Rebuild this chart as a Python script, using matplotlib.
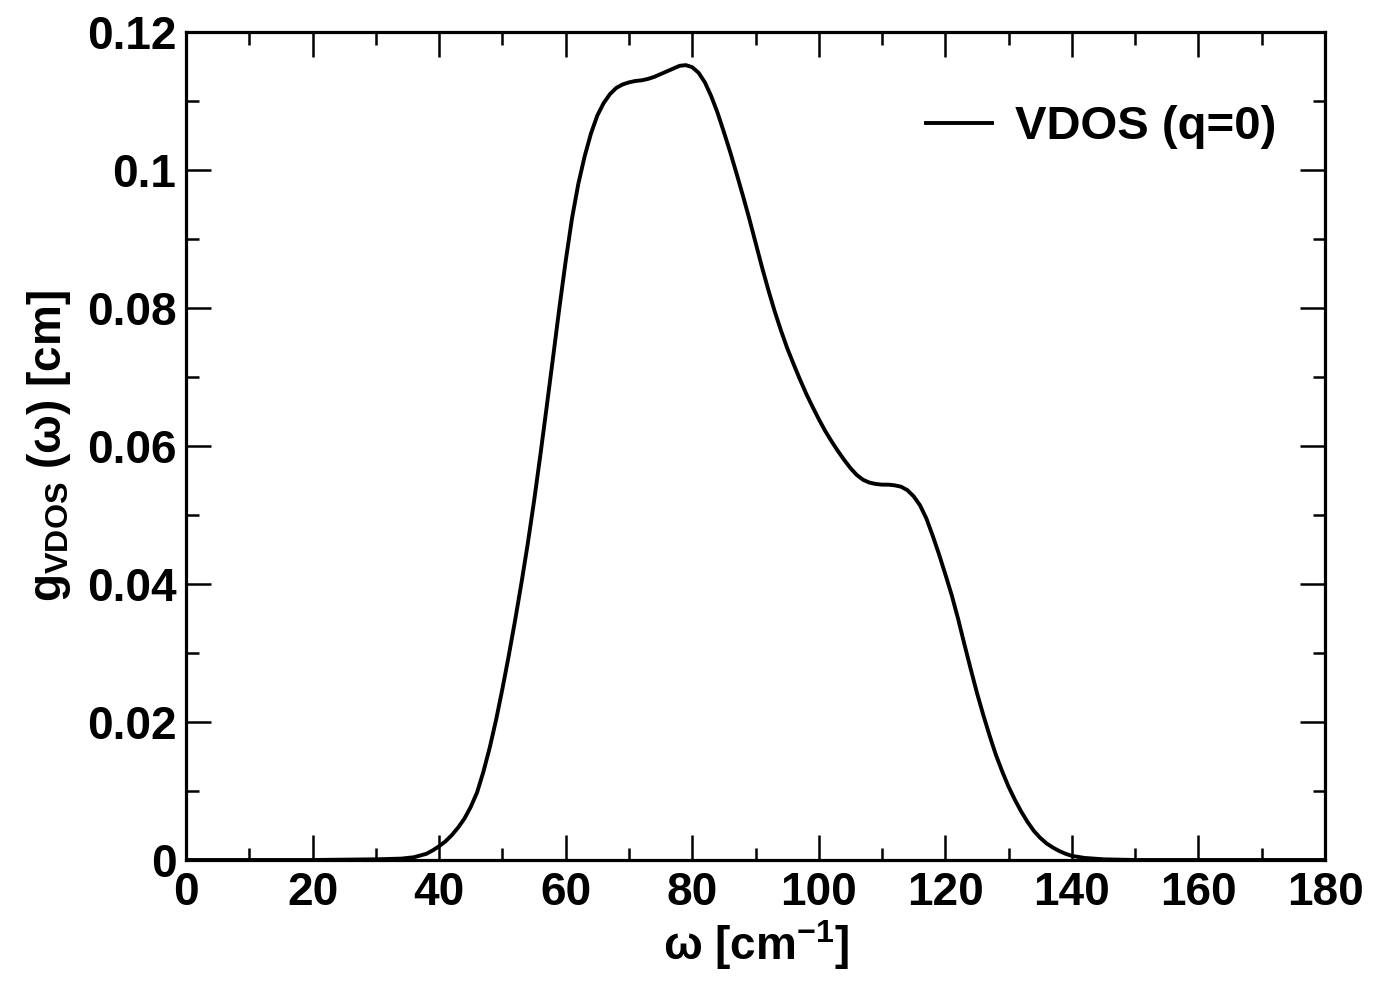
import matplotlib
matplotlib.use("Agg")
import matplotlib.pyplot as plt
from matplotlib.ticker import MultipleLocator

plt.rcParams['font.family'] = ['Liberation Sans', 'DejaVu Sans']
plt.rcParams['font.weight'] = 'bold'
plt.rcParams['mathtext.fontset'] = 'custom'
plt.rcParams['mathtext.rm'] = 'Liberation Sans'
plt.rcParams['mathtext.bf'] = 'Liberation Sans:bold'

# Data
omega = [0, 10, 20, 30, 34, 36, 38, 39, 40, 41, 42, 43, 44, 45, 46, 47, 48,
         49, 50, 51, 52, 53, 54, 55, 56, 57, 58, 59, 60, 61, 62, 63, 64, 65,
         66, 67, 68, 69, 70, 71, 72, 73, 74, 75, 76, 77, 78, 79, 80, 81, 82,
         83, 84, 85, 86, 87, 88, 89, 90, 91, 92, 93, 94, 95, 96, 97, 98, 99,
         100, 101, 102, 103, 104, 105, 106, 107, 108, 109, 110, 111, 112,
         113, 114, 115, 116, 117, 118, 119, 120, 121, 122, 123, 124, 125,
         126, 127, 128, 129, 130, 131, 132, 133, 134, 135, 136, 137, 138,
         139, 140, 142, 145, 150, 160, 170, 180]
g_vdos = [0.0, 0.0, 0.0, 0.0001, 0.0002, 0.0004, 0.0009, 0.0014, 0.0020,
          0.0027, 0.0036, 0.0047, 0.0060, 0.0077, 0.0098, 0.0128, 0.0163,
          0.0203, 0.0248, 0.0296, 0.0347, 0.0401, 0.0458, 0.0520, 0.0587,
          0.0657, 0.0728, 0.0800, 0.0868, 0.0930, 0.0980, 0.1020, 0.1053,
          0.1079, 0.1097, 0.1110, 0.1119, 0.1124, 0.1127, 0.1129, 0.1130,
          0.1132, 0.1135, 0.1139, 0.1143, 0.1147, 0.1151, 0.1152, 0.1149,
          0.1141, 0.1127, 0.1107, 0.1083, 0.1055, 0.1026, 0.0995, 0.0963,
          0.0930, 0.0895, 0.0860, 0.0827, 0.0796, 0.0768, 0.0742, 0.0719,
          0.0697, 0.0676, 0.0657, 0.0639, 0.0622, 0.0607, 0.0593, 0.0580,
          0.0568, 0.0558, 0.0551, 0.0547, 0.0545, 0.0544, 0.0544, 0.0543,
          0.0541, 0.0536, 0.0527, 0.0514, 0.0495, 0.0470, 0.0443, 0.0414,
          0.0384, 0.0350, 0.0313, 0.0277, 0.0242, 0.0210, 0.0180, 0.0152,
          0.0128, 0.0106, 0.0087, 0.0070, 0.0055, 0.0042, 0.0032, 0.0024,
          0.0018, 0.0013, 0.0009, 0.0006, 0.0003, 0.0001, 0.0, 0.0, 0.0, 0.0]

x_ticks = [0, 20, 40, 60, 80, 100, 120, 140, 160, 180]
y_ticks = [0, 0.02, 0.04, 0.06, 0.08, 0.1, 0.12]

fig = plt.figure(figsize=(13.85, 9.85), dpi=100)
ax = fig.add_axes([0.1343, 0.1269, 0.8224, 0.8406])

ax.plot(omega, g_vdos, color='black', linewidth=2.8, label='VDOS (q=0)')

ax.set_xlim(0, 180)
ax.set_ylim(0, 0.12)
ax.set_xticks(x_ticks)
ax.set_yticks(y_ticks)
ax.xaxis.set_minor_locator(MultipleLocator(10))
ax.yaxis.set_minor_locator(MultipleLocator(0.01))
ax.set_yticklabels(['%g' % v for v in y_ticks])

ax.tick_params(which='both', direction='in', top=True, right=True,
               width=1.8, labelsize=33)
ax.tick_params(which='major', length=18)
ax.tick_params(which='minor', length=9)
ax.tick_params(axis='x', pad=8)
ax.tick_params(axis='y', pad=7)
for lbl in ax.get_xticklabels() + ax.get_yticklabels():
    lbl.set_fontweight('bold')
for sp in ax.spines.values():
    sp.set_linewidth(2.3)

ax.set_xlabel(r'$\mathrm{\omega}$ [cm$^{\mathbf{-1}}$]', fontsize=33,
              fontweight='bold', labelpad=2)
ax.set_ylabel(r'g$_{\mathbf{VDOS}}$ ($\mathrm{\omega}$) [cm]', fontsize=33,
              fontweight='bold', labelpad=10)

leg = ax.legend(loc='upper right', frameon=False, fontsize=34,
                handlelength=1.4, handletextpad=0.5,
                bbox_to_anchor=(0.995, 0.963))
for t in leg.get_texts():
    t.set_fontweight('bold')

fig.savefig('out.png', dpi=100)
plt.close(fig)
